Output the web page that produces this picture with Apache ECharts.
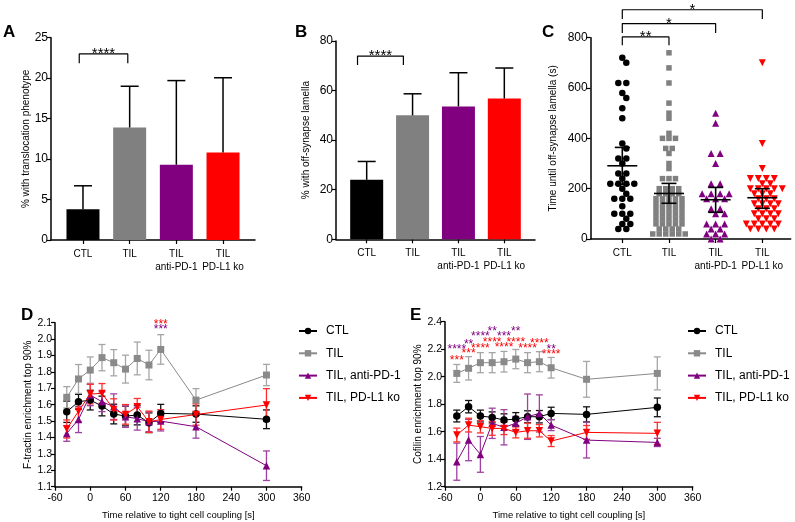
<!DOCTYPE html>
<html><head><meta charset="utf-8">
<script src="https://cdn.jsdelivr.net/npm/echarts@6/dist/echarts.min.js"></script>
<style>html,body{margin:0;padding:0;background:#fff}#c{width:795px;height:522px}</style>
</head><body><div id="c"></div>
<script>
// ---------------- DATA ----------------
const groups = ['CTL', 'TIL', 'TIL\nanti-PD-1', 'TIL\nPD-L1 ko'];
// Panel A
const aMean = [3.8, 13.9, 9.3, 10.8];
const aErrTop = [6.7, 19.0, 19.7, 20.05];
// Panel B
const bMean = [24.0, 50.0, 53.6, 56.8];
const bErrTop = [31.4, 58.7, 67.2, 69.1];
// Panel C (individual cells)
const cCTL = [720, 700, 620, 620, 580, 560, 520, 480, 380, 360, 320, 320, 300, 260, 260, 240, 220, 220, 220, 220, 200, 180, 160, 160, 160, 130, 100, 100, 100, 80, 60, 60, 40, 40];
const cTIL = [740, 680, 620, 540, 500, 480, 420, 400, 400, 400, 360, 360, 340, 300, 280, 240, 240, 240, 200, 200, 200, 200, 180, 180, 180, 180, 160, 160, 160, 160, 160, 140, 140, 140, 140, 140, 120, 120, 120, 120, 120, 100, 100, 100, 100, 100, 80, 80, 80, 80, 80, 60, 60, 60, 60, 60, 40, 40, 40, 40, 20, 20, 20, 20, 20, 20];
const cAnti = [500, 460, 340, 340, 300, 220, 220, 180, 180, 180, 180, 160, 160, 160, 120, 120, 100, 100, 60, 60, 60, 40, 40, 20, 20, 20, 0, 0];
const cPDL1 = [700, 380, 280, 240, 240, 240, 240, 220, 220, 200, 200, 200, 200, 200, 180, 180, 180, 160, 160, 160, 140, 140, 140, 140, 120, 120, 120, 100, 100, 100, 100, 80, 80, 80, 60, 60, 60, 60, 60, 40, 40, 40, 40];
const cMean = [291, 181, 156, 164];
const cCILow = [217, 142, 106, 122];
const cCIHigh = [364, 221, 205, 200];
// Panels D / E
const times = [-40, -20, 0, 20, 40, 60, 80, 100, 120, 180, 300];
const lineNames = ['CTL', 'TIL', 'TIL, anti-PD-1', 'TIL, PD-L1 ko'];
const dCTL = [1.557, 1.618, 1.628, 1.592, 1.543, 1.531, 1.537, 1.490, 1.547, 1.543, 1.511];
const dCTLsem = [0.065, 0.045, 0.06, 0.06, 0.06, 0.06, 0.06, 0.06, 0.055, 0.05, 0.057];
const dTIL = [1.645, 1.757, 1.811, 1.887, 1.856, 1.817, 1.882, 1.842, 1.937, 1.628, 1.781];
const dTILsem = [0.065, 0.088, 0.08, 0.08, 0.08, 0.085, 0.1, 0.09, 0.09, 0.07, 0.065];
const dAnti = [1.425, 1.510, 1.659, 1.618, 1.588, 1.527, 1.515, 1.496, 1.500, 1.466, 1.228];
const dAntiSem = [0.048, 0.08, 0.065, 0.06, 0.078, 0.065, 0.07, 0.06, 0.06, 0.07, 0.09];
const dPDL1 = [1.452, 1.560, 1.665, 1.669, 1.571, 1.541, 1.588, 1.496, 1.510, 1.540, 1.598];
const dPDL1sem = [0.055, 0.065, 0.06, 0.06, 0.065, 0.06, 0.05, 0.065, 0.06, 0.065, 0.1];
const eCTL = [1.714, 1.782, 1.714, 1.704, 1.685, 1.692, 1.709, 1.709, 1.733, 1.726, 1.777];
const eCTLsem = [0.043, 0.045, 0.043, 0.04, 0.045, 0.047, 0.043, 0.045, 0.045, 0.055, 0.068];
const eTIL = [2.024, 2.061, 2.102, 2.102, 2.109, 2.128, 2.102, 2.109, 2.065, 1.981, 2.024];
const eTILsem = [0.065, 0.085, 0.073, 0.073, 0.075, 0.07, 0.073, 0.073, 0.075, 0.13, 0.12];
const eAnti = [1.382, 1.539, 1.435, 1.661, 1.632, 1.661, 1.709, 1.733, 1.648, 1.539, 1.522];
const eAntiSem = [0.135, 0.15, 0.13, 0.11, 0.128, 0.05, 0.165, 0.135, 0.04, 0.13, 0.03];
const ePDL1 = [1.576, 1.648, 1.636, 1.624, 1.624, 1.595, 1.607, 1.607, 1.532, 1.595, 1.588];
const ePDL1sem = [0.05, 0.05, 0.045, 0.05, 0.045, 0.04, 0.055, 0.045, 0.04, 0.05, 0.08];
// significance annotations
const sigA = [{from: -0.08, to: 0.96, y: 23.0, leg: 21.85, text: '****'}];
const sigB = [{from: -0.2, to: 0.8, y: 73.9, leg: 70.3, text: '****'}];
const sigC = [
  {from: 0, to: 1, y: 803, leg: 770, text: '**'},
  {from: 0, to: 2, y: 856, leg: 819, text: '*'},
  {from: 0, to: 3, y: 911, leg: 874, text: '*'}
];
const dStars = [
  {x: 120, y: 2.088, text: '***', g: 3},
  {x: 120, y: 2.058, text: '***', g: 2}
];
const eStars = [
  {x: -40, y: 2.200, text: '****', g: 2}, {x: -20, y: 2.235, text: '**', g: 2},
  {x: 0, y: 2.290, text: '****', g: 2}, {x: 20, y: 2.327, text: '**', g: 2},
  {x: 40, y: 2.290, text: '***', g: 2}, {x: 60, y: 2.327, text: '**', g: 2},
  {x: 120, y: 2.200, text: '**', g: 2},
  {x: -40, y: 2.114, text: '***', g: 3}, {x: -20, y: 2.168, text: '***', g: 3},
  {x: 0, y: 2.206, text: '****', g: 3}, {x: 20, y: 2.250, text: '****', g: 3},
  {x: 40, y: 2.210, text: '****', g: 3}, {x: 60, y: 2.250, text: '****', g: 3},
  {x: 80, y: 2.206, text: '****', g: 3}, {x: 100, y: 2.237, text: '****', g: 3},
  {x: 120, y: 2.162, text: '****', g: 3}
];

// ---------------- STYLE ----------------
const FONT = 'Liberation Sans, Arial, Helvetica, sans-serif';
const colors = ['#000000', '#808080', '#800080', '#ff0000'];
const errColors = ['#111111', '#a6a6a6', '#a040a0', '#ff3030'];
const lineColors = ['#000000', '#8a8a8a', '#800080', '#ff0000'];
const symbols = ['circle', 'rect', 'triangle', 'triangle'];
const rotates = [0, 0, 0, 180];

const chart = echarts.init(document.getElementById('c'), null, {renderer: 'canvas'});

function axisLineStyle() { return {show: true, onZero: false, lineStyle: {color: '#000', width: 1.5}}; }

function catXAxis(gi, min, max) {
  return {
    gridIndex: gi, type: 'value', min: min, max: max,
    splitLine: {show: false}, axisLine: axisLineStyle(),
    axisTick: {show: true, customValues: [0, 1, 2, 3], length: 4, lineStyle: {color: '#000', width: 1.2}},
    axisLabel: {customValues: [0, 1, 2, 3], formatter: v => groups[Math.round(v)] || '',
      showMinLabel: true, showMaxLabel: true, hideOverlap: false,
      fontSize: 10, lineHeight: 12.5, margin: 8, color: '#000', fontFamily: FONT}
  };
}
function valYAxis(gi, min, max, interval, name, gap, fmt, fs) {
  return {
    gridIndex: gi, type: 'value', min: min, max: max, interval: interval,
    splitLine: {show: false}, axisLine: axisLineStyle(),
    axisTick: {show: true, length: 4, lineStyle: {color: '#000', width: 1.2}},
    axisLabel: {fontSize: fs, margin: 3, color: '#000', fontFamily: FONT, formatter: fmt},
    name: name, nameLocation: 'middle', nameGap: gap,
    nameTextStyle: {fontSize: 10, color: '#000', fontFamily: FONT}
  };
}
function timeXAxis(gi) {
  return {
    gridIndex: gi, type: 'value', min: -60, max: 360, interval: 60,
    splitLine: {show: false}, axisLine: axisLineStyle(),
    axisTick: {show: true, length: 4, lineStyle: {color: '#000', width: 1.2}},
    axisLabel: {fontSize: 10.5, margin: 6, color: '#000', fontFamily: FONT},
    name: 'Time relative to tight cell coupling [s]', nameLocation: 'middle', nameGap: 24,
    nameTextStyle: {fontSize: 9.5, color: '#000', fontFamily: FONT}
  };
}

function seg(a, b, st) {
  return {type: 'line', shape: {x1: a[0], y1: a[1], x2: b[0], y2: b[1]}, style: st};
}
// error bar renderer
function errRender(capW, colorFn, lw, bothCaps) {
  return function (params, api) {
    const x = api.value(0), lo = api.value(1), hi = api.value(2);
    const a = api.coord([x, lo]).slice(), b = api.coord([x, hi]).slice();
    const st = {stroke: colorFn(params.dataIndex), lineWidth: lw};
    const ch = [seg(a, b, st), seg([b[0] - capW / 2, b[1]], [b[0] + capW / 2, b[1]], st)];
    if (bothCaps) ch.push(seg([a[0] - capW / 2, a[1]], [a[0] + capW / 2, a[1]], st));
    return {type: 'group', children: ch};
  };
}
function textRender(list, fs, dy, colorFn, xKey, yKey) {
  return function (params, api) {
    const s = list[params.dataIndex];
    const p = api.coord([xKey(s), yKey(s)]);
    return {type: 'text', x: p[0], y: p[1] + dy,
      style: {text: s.text, fill: colorFn(s), fontSize: fs, fontFamily: FONT, align: 'center', verticalAlign: 'bottom'}};
  };
}

// dot-plot layout (deterministic, from values): rows of near-equal values spread symmetrically,
// whole rows nudged sideways by half a step when they would collide with the row above.
function dotPlot(values, pxPerUnit, pxPerCat, stepPx, d) {
  const order = values.map((v, i) => i).sort((a, b) => values[b] - values[a] || a - b);
  const rows = [];
  for (const i of order) {
    const last = rows[rows.length - 1];
    if (last && (values[last[0]] - values[i]) * pxPerUnit < 3) last.push(i); else rows.push([i]);
  }
  const placed = [];
  const out = new Array(values.length);
  for (const row of rows) {
    const n = row.length, y = values[row[0]] * pxPerUnit;
    const base = row.map((_, j) => (j - (n - 1) / 2) * stepPx);
    const shifts = [0, stepPx / 2, -stepPx / 2, stepPx, -stepPx];
    let chosen = 0;
    for (const sh of shifts) {
      const ok = base.every(bx => placed.every(p => (p.x - bx - sh) ** 2 + (p.y - y) ** 2 >= d * d));
      if (ok) { chosen = sh; break; }
    }
    row.forEach((i, j) => { out[i] = (base[j] + chosen) / pxPerCat; placed.push({x: base[j] + chosen, y: y}); });
  }
  return out;
}

// layout
const gridA = {left: 51, top: 37.7, width: 204, height: 202.3};
const gridB = {left: 336, top: 41, width: 199, height: 198.3};
const gridC = {left: 590.7, top: 37.7, width: 200, height: 201.3};
const gridD = {left: 55, top: 322.7, width: 246.7, height: 164};
const gridE = {left: 445, top: 321.7, width: 247.7, height: 165};
const cPxPerUnit = gridC.height / 800, cPxPerCat = 46.67;

const cSets = [cCTL, cTIL, cAnti, cPDL1];
const cSizes = [6.5, 5.5, 7, 7];
const cSteps = [8, 6.5, 9, 8];
const cMinDist = [6, 5, 6, 6];
const series = [];

function bracketSeries(list, ai) {
  list.forEach((s, k) => {
    series.push({type: 'line', name: 'sig' + ai + '_' + k, xAxisIndex: ai, yAxisIndex: ai, z: 4,
      clip: false, symbol: 'none', silent: true,
      lineStyle: {color: '#000', width: 1.2},
      data: [[s.from, s.leg], [s.from, s.y], [s.to, s.y], [s.to, s.leg]]});
  });
  series.push({type: 'custom', name: 'sigtext' + ai, xAxisIndex: ai, yAxisIndex: ai, z: 5, clip: false,
    renderItem: textRender(list, 15, 7.5, () => '#000', s => (s.from + s.to) / 2, s => s.y),
    data: list.map(s => [(s.from + s.to) / 2, s.leg])});
}

// A bars
series.push({type: 'bar', name: 'A bars', xAxisIndex: 0, yAxisIndex: 0, barWidth: 33, z: 2,
  data: aMean.map((v, i) => ({value: [i, v], itemStyle: {color: colors[i]}}))});
series.push({type: 'custom', name: 'A err', xAxisIndex: 0, yAxisIndex: 0, z: 3,
  renderItem: errRender(18, () => '#000', 1.5, false),
  data: aMean.map((v, i) => [i, v, aErrTop[i]])});
bracketSeries(sigA, 0);
// B bars
series.push({type: 'bar', name: 'B bars', xAxisIndex: 1, yAxisIndex: 1, barWidth: 33, z: 2,
  data: bMean.map((v, i) => ({value: [i, v], itemStyle: {color: colors[i]}}))});
series.push({type: 'custom', name: 'B err', xAxisIndex: 1, yAxisIndex: 1, z: 3,
  renderItem: errRender(18, () => '#000', 1.5, false),
  data: bMean.map((v, i) => [i, v, bErrTop[i]])});
bracketSeries(sigB, 1);
// C scatter
cSets.forEach((vals, g) => {
  const offs = dotPlot(vals, cPxPerUnit, cPxPerCat, cSteps[g], cMinDist[g]);
  series.push({type: 'scatter', name: 'C ' + g, xAxisIndex: 2, yAxisIndex: 2, z: 2,
    symbol: symbols[g], symbolRotate: rotates[g], symbolSize: cSizes[g],
    itemStyle: {color: colors[g], opacity: 1}, clip: false,
    data: vals.map((v, i) => [g + offs[i], v])});
});
series.push({type: 'custom', name: 'C mean', xAxisIndex: 2, yAxisIndex: 2, z: 5,
  renderItem: function (params, api) {
    const x = api.value(0), m = api.value(1), lo = api.value(2), hi = api.value(3);
    const pm = api.coord([x, m]).slice(), pl = api.coord([x, lo]).slice(), ph = api.coord([x, hi]).slice();
    const st = {stroke: '#000', lineWidth: 1.6};
    return {type: 'group', children: [
      seg([pm[0] - 15, pm[1]], [pm[0] + 15, pm[1]], st),
      seg(pl, ph, st),
      seg([pl[0] - 7.5, pl[1]], [pl[0] + 7.5, pl[1]], st),
      seg([ph[0] - 7.5, ph[1]], [ph[0] + 7.5, ph[1]], st)
    ]};
  },
  data: cMean.map((m, i) => [i, m, cCILow[i], cCIHigh[i]])});
bracketSeries(sigC, 2);

// D / E lines
const dSets = [[dCTL, dCTLsem], [dTIL, dTILsem], [dAnti, dAntiSem], [dPDL1, dPDL1sem]];
const eSets = [[eCTL, eCTLsem], [eTIL, eTILsem], [eAnti, eAntiSem], [ePDL1, ePDL1sem]];
[[dSets, 3], [eSets, 4]].forEach(([sets, ai]) => {
  sets.forEach(([vals, sem], g) => {
    series.push({type: 'custom', name: 'err' + ai + g, xAxisIndex: ai, yAxisIndex: ai, z: 2,
      renderItem: errRender(7, () => errColors[g], 1.3, true),
      data: vals.map((v, i) => [times[i], v - sem[i], v + sem[i]])});
  });
  sets.forEach(([vals], g) => {
    series.push({type: 'line', name: lineNames[g], xAxisIndex: ai, yAxisIndex: ai, z: 3 + g,
      symbol: symbols[g], symbolRotate: rotates[g], symbolSize: g === 1 ? 7 : 7.5, showSymbol: true,
      lineStyle: {color: lineColors[g], width: 1}, itemStyle: {color: lineColors[g], opacity: 1},
      color: lineColors[g],
      data: vals.map((v, i) => [times[i], v])});
  });
});
series.push({type: 'custom', name: 'D stars', xAxisIndex: 3, yAxisIndex: 3, z: 10, clip: false,
  renderItem: textRender(dStars, 12, 6, s => colors[s.g], s => s.x, s => s.y), data: dStars.map(s => [s.x, s.y])});
series.push({type: 'custom', name: 'E stars', xAxisIndex: 4, yAxisIndex: 4, z: 10, clip: false,
  renderItem: textRender(eStars, 12, 6, s => colors[s.g], s => s.x, s => s.y), data: eStars.map(s => [s.x, s.y])});

const legendBase = {
  data: lineNames, orient: 'vertical', itemWidth: 18, itemHeight: 8, itemGap: 10.3,
  textStyle: {fontSize: 12, color: '#000', fontFamily: FONT, padding: [0, 0, 0, 4]},
  selectedMode: false, top: 320
};

chart.setOption({
  animation: false,
  backgroundColor: '#fff',
  textStyle: {fontFamily: FONT},
  grid: [gridA, gridB, gridC, gridD, gridE],
  xAxis: [catXAxis(0, -0.685, 3.685), catXAxis(1, -0.669, 3.669), catXAxis(2, -0.677, 3.608),
    timeXAxis(3), timeXAxis(4)],
  yAxis: [
    valYAxis(0, 0, 25, 5, '% with translocation phenotype', 17, undefined, 12),
    valYAxis(1, 0, 80, 20, '% with off-synapse lamella', 25, undefined, 12),
    valYAxis(2, 0, 800, 200, 'Time until off-synapse lamella (s)', 32, undefined, 12),
    valYAxis(3, 1.1, 2.1, 0.1, 'F-tractin enrichment top 90%', 20, v => v.toFixed(1), 10.5),
    valYAxis(4, 1.2, 2.4, 0.2, 'Cofilin enrichment top 90%', 21, v => v.toFixed(1), 10.5)
  ],
  legend: [Object.assign({}, legendBase, {left: 293}), Object.assign({}, legendBase, {left: 682})],
  graphic: [
    {type: 'text', x: 3, y: 24, style: {text: 'A', fontSize: 17, fontWeight: 'bold', fontFamily: FONT, fill: '#000'}},
    {type: 'text', x: 295, y: 24, style: {text: 'B', fontSize: 17, fontWeight: 'bold', fontFamily: FONT, fill: '#000'}},
    {type: 'text', x: 542, y: 24, style: {text: 'C', fontSize: 17, fontWeight: 'bold', fontFamily: FONT, fill: '#000'}},
    {type: 'text', x: 21, y: 307, style: {text: 'D', fontSize: 17, fontWeight: 'bold', fontFamily: FONT, fill: '#000'}},
    {type: 'text', x: 410, y: 307, style: {text: 'E', fontSize: 17, fontWeight: 'bold', fontFamily: FONT, fill: '#000'}}
  ],
  series: series
});
</script></body></html>
